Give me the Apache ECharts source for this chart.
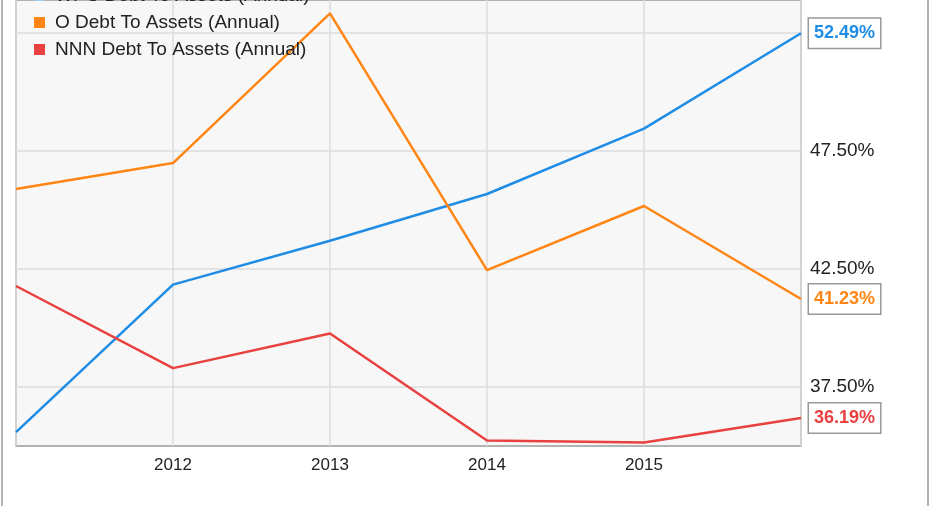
<!DOCTYPE html>
<html>
<head>
<meta charset="utf-8">
<script src="https://cdn.jsdelivr.net/npm/echarts@6/dist/echarts.min.js"></script>
<style>
html,body{margin:0;padding:0;background:#fff;}
#chart{width:931px;height:506px;}
</style>
</head>
<body>
<div id="chart"></div>
<script>
var years = ['2011', '2012', '2013', '2014', '2015', '2016'];
var seriesNames = ['WPC Debt To Assets (Annual)', 'O Debt To Assets (Annual)', 'NNN Debt To Assets (Annual)'];
var wpcValues = [35.59, 41.84, 43.70, 45.68, 48.45, 52.49];
var oValues = [45.89, 46.99, 53.33, 42.45, 45.17, 41.23];
var nnnValues = [41.78, 38.30, 39.77, 35.23, 35.15, 36.19];
var seriesColors = ['#1f8ce6', '#ff8514', '#e8413f'];
var yTickLabels = ['37.50%', '42.50%', '47.50%', '52.50%'];

var chart = echarts.init(document.getElementById('chart'), null, {renderer: 'canvas'});
var baseFont = "'Liberation Sans', Arial, sans-serif";

function makeSeries(name, values, color) {
  return {
    name: name,
    type: 'line',
    data: values,
    symbol: 'none',
    lineStyle: {color: color, width: 2.5},
    itemStyle: {color: color},
    z: 3,
    endLabel: {
      show: true,
      formatter: function (p) { return p.value.toFixed(2) + '%'; },
      color: color,
      fontWeight: 'bold',
      fontSize: 18,
      fontFamily: baseFont,
      backgroundColor: '#fff',
      borderColor: '#999',
      borderWidth: 1.5,
      padding: [6, 5, 5, 5],
      distance: 8
    }
  };
}

var option = {
  animation: false,
  backgroundColor: '#fff',
  grid: {
    left: 16, right: 130, top: 0, bottom: 60,
    show: true,
    backgroundColor: '#f7f7f7',
    borderColor: '#9a9a9a',
    borderWidth: 1.5
  },
  legend: {
    orient: 'vertical',
    left: 29,
    top: -19,
    itemWidth: 11,
    itemHeight: 11,
    itemGap: 8,
    icon: 'rect',
    data: seriesNames.map(function (n, i) { return {name: n, itemStyle: {color: i === 0 ? '#9ccaf0' : seriesColors[i]}}; }),
    textStyle: {fontSize: 19, color: '#222', fontFamily: baseFont, padding: [0, 0, 0, 5]}
  },
  xAxis: {
    type: 'category',
    data: years,
    boundaryGap: false,
    axisLine: {show: false},
    axisTick: {show: false},
    axisLabel: {
      color: '#222',
      fontSize: 17,
      margin: 11,
      fontFamily: baseFont,
      formatter: function (v, i) { return (i === 0 || i === years.length - 1) ? '' : v; }
    },
    splitLine: {show: true, lineStyle: {color: '#dcdcdc', width: 1.5}}
  },
  yAxis: {
    type: 'value',
    position: 'right',
    min: 35,
    max: 53.9,
    interval: 2.5,
    axisLine: {show: false},
    axisTick: {show: false},
    axisLabel: {
      color: '#222',
      fontSize: 19,
      margin: 9,
      fontFamily: baseFont,
      formatter: function (v) {
        var s = v.toFixed(2) + '%';
        return (yTickLabels.indexOf(s) >= 0 && s !== '52.50%') ? s : '';
      }
    },
    splitLine: {show: true, lineStyle: {color: ['rgba(0,0,0,0)', '#dcdcdc'], width: 1.5}}
  },
  graphic: [
    {type: 'rect', shape: {x: 2, y: -10, width: 926, height: 530}, style: {fill: 'none', stroke: '#999', lineWidth: 1.5}, silent: true}
  ],
  series: [
    makeSeries(seriesNames[0], wpcValues, seriesColors[0]),
    makeSeries(seriesNames[1], oValues, seriesColors[1]),
    makeSeries(seriesNames[2], nnnValues, seriesColors[2])
  ]
};
chart.setOption(option);
</script>
</body>
</html>
